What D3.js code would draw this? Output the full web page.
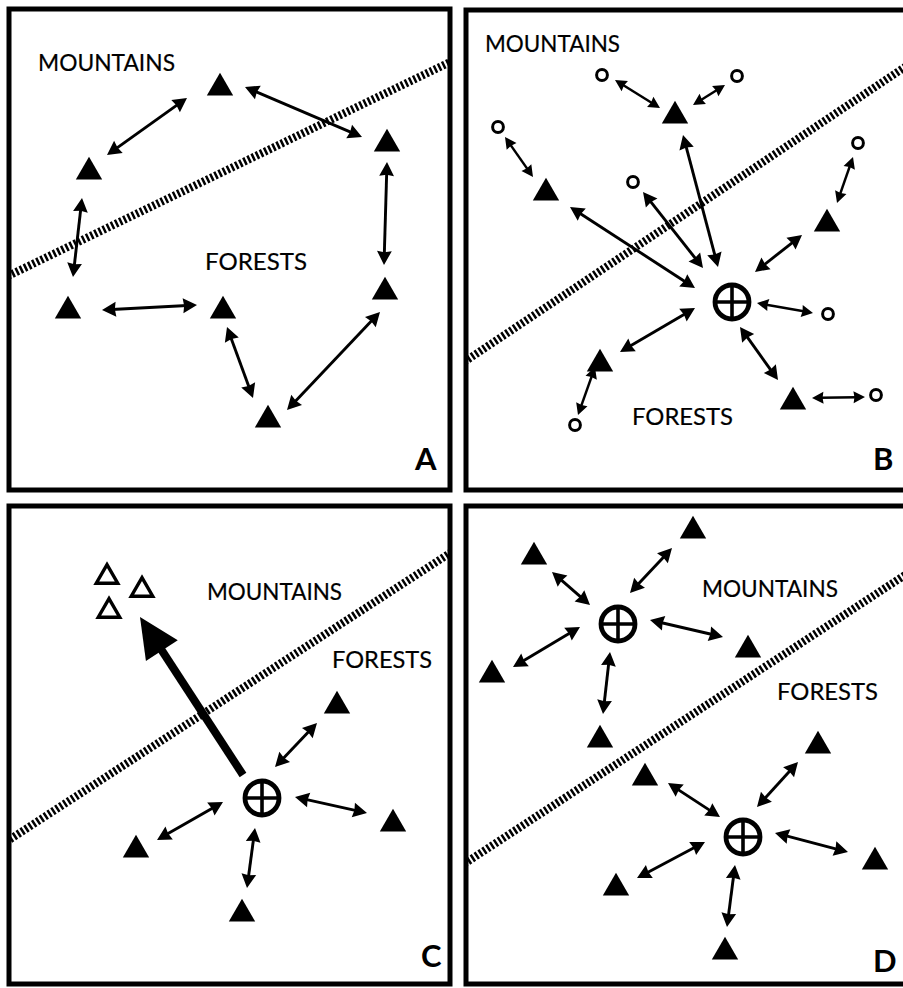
<!DOCTYPE html>
<html><head><meta charset="utf-8">
<script src="https://cdn.jsdelivr.net/npm/d3@7"></script>
<style>body{margin:0;background:#fff}svg{display:block}</style>
</head><body><svg id="c" width="903" height="988"></svg>
<script>
// ---------------- data (panel-local units) ----------------
const panelNames = ["A", "B", "C", "D"];
const regionNames = ["MOUNTAINS", "FORESTS"];

// boundary between mountains and forests: [x1, y1, x2, y2]
const boundaries = [[1, 266, 439, 54], [4, 348, 439, 57], [3, 332, 438, 49], [4, 354, 436, 71]];

// Panel A: stepping-stone ring of populations
const trianglesA = [[211, 79], [378, 135], [80, 163], [59, 302], [214, 302], [376, 283], [259, 411]];
const linksA = [[98, 146, 178, 89], [236, 78, 353, 128], [378, 153, 375, 256], [73, 189, 64, 268],
                [93, 301, 188, 296], [218, 318, 244, 389], [278, 401, 371, 303]];

// Panel B: hub with populations and satellite sites
const hubsB = [[266, 292]];
const trianglesB = [[209, 106], [80, 183], [361, 214], [134, 354], [327, 392]];
const circlesB = [[136, 65], [271, 66], [32, 117], [167, 172], [392, 133], [362, 304], [410, 385], [109, 415]];
const linksB = [[104, 197, 229, 278], [217, 125, 252, 257], [289, 262, 336, 225], [274, 317, 312, 370],
                [229, 298, 154, 342], [177, 182, 237, 258]];
const shortLinksB = [[149, 70, 194, 98], [227, 95, 259, 75], [39, 127, 67, 167], [371, 193, 387, 147],
                     [291, 293, 347, 303], [346, 388, 399, 387], [129, 357, 112, 405]];

// Panel C: hub with one-way migration to the mountains
const hubsC = [[253, 292]];
const trianglesC = [[328, 200], [384, 318], [127, 344], [233, 408]];
const openTrianglesC = [[98, 71], [133, 84], [100, 105]];
const linksC = [[266, 261, 308, 217], [286, 291, 358, 307], [214, 296, 148, 334], [246, 322, 238, 382]];
const migrationC = [[234, 269, 131, 111]];

// Panel D: two hubs, one per habitat
const hubsD = [[152, 118], [277, 331]];
const trianglesD = [[227, 25], [68, 51], [26, 169], [282, 144], [134, 234],
                    [352, 240], [179, 272], [409, 356], [150, 382], [259, 446]];
const linksD = [[164, 87, 206, 42], [124, 99, 86, 66], [114, 121, 47, 161], [184, 114, 257, 131], [144, 146, 137, 208],
                [291, 301, 332, 256], [254, 311, 202, 277], [309, 327, 382, 346], [239, 336, 171, 372], [269, 359, 261, 421]];

// ---------------- layout ----------------
const frames = [
  {x: 9, y: 9, w: 441, h: 481},
  {x: 466, y: 10, w: 440, h: 480},
  {x: 9, y: 506, w: 441, h: 478},
  {x: 466, y: 506, w: 440, h: 478}
];
const textLayout = [
  {m: [29, 62, 137], f: [196, 261, 102], l: [406, 461]},
  {m: [19, 42, 135], f: [166, 415, 101], l: [407, 460]},
  {m: [198, 94, 135], f: [323, 162, 100], l: [412, 461]},
  {m: [236, 91, 136], f: [311, 194, 101], l: [407, 466]}
];
const panelData = [
  {tri: trianglesA, links: linksA, small: [], hubs: [], circles: [], open: [], big: []},
  {tri: trianglesB, links: linksB, small: shortLinksB, hubs: hubsB, circles: circlesB, open: [], big: []},
  {tri: trianglesC, links: linksC, small: [], hubs: hubsC, circles: [], open: openTrianglesC, big: migrationC},
  {tri: trianglesD, links: linksD, small: [], hubs: hubsD, circles: [], open: [], big: []}
];

const svg = d3.select("#c");
const defs = svg.append("defs");
const triPath = d3.symbol().type(d3.symbolTriangle).size(300)();
const openTriPath = d3.symbol().type(d3.symbolTriangle).size(200)();

function arrowHead(g, tx, ty, ux, uy, hl, hw) {
  const px = -uy, py = ux;
  g.append("path")
    .attr("d", `M${tx},${ty}L${tx - ux * hl + px * hw},${ty - uy * hl + py * hw}L${tx - ux * hl * 0.92},${ty - uy * hl * 0.92}L${tx - ux * hl - px * hw},${ty - uy * hl - py * hw}Z`)
    .attr("fill", "#000");
}
function dblArrow(g, x1, y1, x2, y2, hl, hw, sw) {
  const dx = x2 - x1, dy = y2 - y1, L = Math.hypot(dx, dy), ux = dx / L, uy = dy / L;
  g.append("line")
    .attr("x1", x1 + ux * hl * 0.7).attr("y1", y1 + uy * hl * 0.7)
    .attr("x2", x2 - ux * hl * 0.7).attr("y2", y2 - uy * hl * 0.7)
    .attr("stroke", "#000").attr("stroke-width", sw);
  arrowHead(g, x2, y2, ux, uy, hl, hw);
  arrowHead(g, x1, y1, -ux, -uy, hl, hw);
}

panelNames.forEach((name, i) => {
  const fr = frames[i], d = panelData[i], tl = textLayout[i];
  const sx = d3.scaleLinear().domain([0, fr.w]).range([fr.x, fr.x + fr.w]);
  const sy = d3.scaleLinear().domain([0, fr.h]).range([fr.y, fr.y + fr.h]);
  const g = svg.append("g");

  defs.append("clipPath").attr("id", "clip" + name)
    .append("rect").attr("x", fr.x).attr("y", fr.y).attr("width", fr.w).attr("height", fr.h);

  // hatched boundary
  const b = boundaries[i];
  const bdx = b[2] - b[0], bdy = b[3] - b[1], bl = Math.hypot(bdx, bdy);
  const ext = 30;
  g.append("line")
    .attr("clip-path", `url(#clip${name})`)
    .attr("x1", sx(b[0] - bdx / bl * ext)).attr("y1", sy(b[1] - bdy / bl * ext))
    .attr("x2", sx(b[2] + bdx / bl * ext)).attr("y2", sy(b[3] + bdy / bl * ext))
    .attr("stroke", "#000").attr("stroke-width", 8).attr("stroke-dasharray", "2.5,2.1");

  // region names
  [tl.m, tl.f].forEach((t, k) => {
    g.append("text").attr("x", sx(t[0])).attr("y", sy(t[1]))
      .attr("font-family", "Lato, 'Open Sans', sans-serif").attr("font-size", 24)
      .attr("textLength", t[2]).attr("lengthAdjust", "spacingAndGlyphs")
      .attr("fill", "#000").attr("stroke", "#000").attr("stroke-width", 0.2)
      .text(regionNames[k]);
  });

  // links
  d.links.forEach(l => dblArrow(g, sx(l[0]), sy(l[1]), sx(l[2]), sy(l[3]), 14, 7.4, 2.9));
  d.small.forEach(l => dblArrow(g, sx(l[0]), sy(l[1]), sx(l[2]), sy(l[3]), 11.5, 6, 2.5));

  // big migration arrow
  d.big.forEach(l => {
    const x1 = sx(l[0]), y1 = sy(l[1]), x2 = sx(l[2]), y2 = sy(l[3]);
    const L = Math.hypot(x2 - x1, y2 - y1), ux = (x2 - x1) / L, uy = (y2 - y1) / L;
    const hl = 40, hw = 19;
    g.append("line").attr("x1", x1).attr("y1", y1)
      .attr("x2", x2 - ux * hl * 0.8).attr("y2", y2 - uy * hl * 0.8)
      .attr("stroke", "#000").attr("stroke-width", 8);
    const px = -uy, py = ux;
    g.append("path")
      .attr("d", `M${x2},${y2}L${x2 - ux * hl + px * hw},${y2 - uy * hl + py * hw}L${x2 - ux * hl - px * hw},${y2 - uy * hl - py * hw}Z`)
      .attr("fill", "#000");
  });

  // populations
  g.selectAll(null).data(d.tri).join("path")
    .attr("d", triPath).attr("transform", p => `translate(${sx(p[0])},${sy(p[1])})`).attr("fill", "#000");
  g.selectAll(null).data(d.open).join("path")
    .attr("d", openTriPath).attr("transform", p => `translate(${sx(p[0])},${sy(p[1])})`)
    .attr("fill", "#fff").attr("stroke", "#000").attr("stroke-width", 3.4);
  g.selectAll(null).data(d.circles).join("circle")
    .attr("cx", p => sx(p[0])).attr("cy", p => sy(p[1])).attr("r", 5.4)
    .attr("fill", "#fff").attr("stroke", "#000").attr("stroke-width", 3);

  // hubs
  d.hubs.forEach(h => {
    const cx = sx(h[0]), cy = sy(h[1]), r = 17;
    g.append("circle").attr("cx", cx).attr("cy", cy).attr("r", r)
      .attr("fill", "#fff").attr("stroke", "#000").attr("stroke-width", 4.8);
    g.append("line").attr("x1", cx - r).attr("x2", cx + r).attr("y1", cy).attr("y2", cy)
      .attr("stroke", "#000").attr("stroke-width", 3.6);
    g.append("line").attr("x1", cx).attr("x2", cx).attr("y1", cy - r).attr("y2", cy + r)
      .attr("stroke", "#000").attr("stroke-width", 3.6);
  });

  // panel label
  g.append("text").attr("x", sx(tl.l[0])).attr("y", sy(tl.l[1]))
    .attr("font-family", "Lato, 'DejaVu Sans', sans-serif").attr("font-weight", "bold").attr("font-size", 31)
    .attr("fill", "#000").text(name);

  // frame
  g.append("rect").attr("x", fr.x).attr("y", fr.y).attr("width", fr.w).attr("height", fr.h)
    .attr("fill", "none").attr("stroke", "#000").attr("stroke-width", 5);
});
</script>
</body></html>
